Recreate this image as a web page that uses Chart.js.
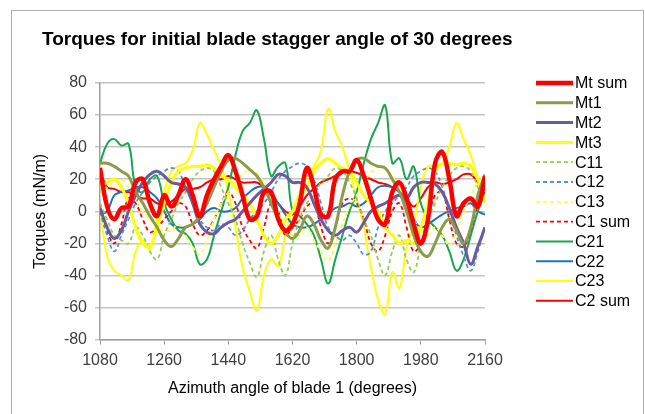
<!DOCTYPE html>
<html>
<head>
<meta charset="utf-8">
<script src="https://cdn.jsdelivr.net/npm/chart.js@4.4.1/dist/chart.umd.min.js"></script>
<style>
  body { margin: 0; background: #fff; }
  #frame { position: absolute; left: 11px; top: 10px; width: 631px; height: 420px; border: 1px solid #b0b0b0; }
  #myChart { position: absolute; left: 0; top: 0; }
</style>
</head>
<body>
<div id="frame"></div>
<canvas id="myChart" width="645" height="414"></canvas>
<script>
// x positions (azimuth angle of blade 1, degrees)
const angles = [
  1080, 1100, 1120, 1140, 1160, 1180, 1200, 1220, 1240, 1260, 1280,
  1300, 1320, 1340, 1360, 1380, 1400, 1420, 1440, 1460, 1480, 1500,
  1520, 1540, 1560, 1580, 1600, 1620, 1640, 1660, 1680, 1700, 1720,
  1740, 1760, 1780, 1800, 1820, 1840, 1860, 1880, 1900, 1920, 1940,
  1960, 1980, 2000, 2020, 2040, 2060, 2080, 2100, 2120, 2140, 2160
];

const mtSum = [
  27, 3, -5, 2, 3, 18, 20, 5, -3, 10, 3,
  10, 20, 10, -3, 10, 20, 28, 35, 25, 10, -5,
  -3, 12, 12, -5, -12, -8, 5, 27, 15, -2, -3,
  20, 25, 25, 32, 22, 8, -5, -8, 12, 18, 8,
  -8, -20, -5, 30, 37, 20, -3, 5, 8, 3, 22
];
const mt1 = [
  30, 30, 28, 25, 22, 12, 5, -3, -10, -18, -22,
  -17, -10, -8, -3, 5, 15, 25, 32, 33, 30, 26,
  22, 15, 5, -5, -13, -17, -12, -3, -8, -18, -23,
  -10, 10, 25, 32, 33, 30, 28, 27, 20, 12, 0,
  -15, -25, -28, -20, -10, -5, -12, -20, -10, 10, 23
];
const mt2 = [
  2, -10, -17, -12, 0, 10, 18, 23, 25, 22, 18,
  17, 15, 5, -8, -13, -14, -10, -7, -5, 0, 5,
  10, 14, 18, 23, 22, 18, 18, 15, 5, -5, -12,
  -15, -12, -10, -13, -7, 0, 3, 5, 8, 10, 8,
  15, 18, 18, 17, 12, 2, -10, -20, -33, -22, -10
];
const mt3 = [
  15, 18, 20, 15, 5, -10, -20, -22, -10, 5, 18,
  25, 27, 28, 28, 29, 27, 22, 20, 15, 10, 5,
  -5, -15, -20, -15, -5, 0, 8, 15, 25, 30, 33,
  30, 27, 25, 18, 10, 5, 0, -10, -15, -20, -18,
  -20, -10, 5, 25, 30, 30, 29, 30, 28, 20, 5
];
const c11 = [
  5, -5, -15, -18, -20, -10, -15, -25, -30, -15, -5,
  5, 12, 20, 25, 27, 25, 15, 5, -5, -20, -32,
  -41, -25, -15, -30, -40, -20, -5, 5, 10, 18, 22,
  27, 25, 18, 8, -5, -15, -30, -40, -25, -15, -30,
  -38, -20, -5, 5, 15, 22, 27, 28, 25, 15, 5
];
const c12 = [
  0, -15, -25, -15, -5, 5, 12, 18, 22, 25, 27,
  25, 15, 5, -5, -10, -12, -8, -10, -15, -12, -5,
  0, 5, 12, 20, 25, 28, 30, 28, 20, 5, -10,
  -15, -18, -15, -20, -27, -25, -10, 0, 5, 10, 15,
  22, 25, 27, 25, 15, 0, -15, -28, -37, -25, -10
];
const c13 = [
  10, 15, 18, 20, 15, 8, 0, -5, -10, -12, -12,
  -8, -15, -22, -27, -18, -5, 5, 12, 18, 23, 26,
  24, 18, 10, 0, -10, -15, -15, -10, -18, -25, -31,
  -20, -8, 3, 10, 18, 24, 28, 26, 22, 15, 5,
  -5, -12, -15, -10, -15, -21, -12, 0, 10, 18, 22
];
const c1Sum = [
  5, -12, -20, -8, 8, 5, -5, -13, -10, -5, 0,
  5, 3, -8, -15, -12, -5, 5, 12, 5, -10, -18,
  -23, -10, 5, 0, -15, -10, -5, 3, 5, -10, -20,
  -10, 5, 8, 5, -5, -20, -25, -15, 0, 5, -10,
  -25, -20, -5, 10, 12, -5, -20, -22, -12, 5, 12
];
const c21 = [
  30, 42, 45, 41, 42, 15, 12, 20, 22, 5, -5,
  -12, -14, -20, -33, -30, -15, 0, 15, 35, 50, 55,
  63, 45, 22, 28, 30, 0, -3, -8, -15, -30, -45,
  -30, -15, 0, 12, 30, 45, 55, 66, 30, 33, 20,
  28, 5, -5, -10, -15, -25, -37, -30, -15, 0, 12
];
const c22 = [
  -2, 0, 10, 12, 13, 15, 15, 12, 8, 0, -8,
  -10, -10, -8, -5, 0, 2, 0, 0, 2, 8, 12,
  15, 15, 10, 5, -2, -8, -10, -10, -8, -5, -2,
  2, 3, 5, 3, 5, 10, 15, 16, 15, 12, 5,
  -5, -10, -8, -5, -2, 0, 2, 3, 5, 0, -2
];
const c23 = [
  2, -28, -37, -40, -43, -25, -18, -24, -5, 12, 25,
  28, 30, 38, 55, 48, 38, 28, 12, -10, -35, -50,
  -62, -40, -30, -34, -15, 0, 12, 22, 28, 38, 64,
  50, 40, 25, 8, -10, -35, -55, -64, -38, -48, -22,
  -8, 15, 28, 28, 30, 40, 55, 45, 35, 20, 8
];
const c2Sum = [
  25, 15, 14, 12, 12, 10, 8, 8, 5, 4, 6,
  10, 14, 14, 15, 18, 20, 20, 22, 20, 18, 18,
  18, 15, 12, 5, 0, -2, 3, 10, 14, 18, 20,
  22, 24, 25, 24, 22, 20, 18, 17, 15, 12, 8,
  3, 8, 15, 18, 17, 18, 20, 23, 23, 18, 13
];

const yTicks = [-80, -60, -40, -20, 0, 20, 40, 60, 80];
const xTicks = [1080, 1260, 1440, 1620, 1800, 1980, 2160];

const FONT = "'Liberation Sans', Arial, sans-serif";

function series(label, data, color, width, dash) {
  return {
    label: label,
    data: data,
    borderColor: color,
    backgroundColor: color,
    borderWidth: width,
    borderDash: dash || [],
    pointRadius: 0,
    tension: 0.4,
    fill: false
  };
}

// title and legend drawn by hand so they sit where Excel put them
const chartDecor = {
  id: 'chartDecor',
  afterDraw(chart) {
    const ctx = chart.ctx;
    ctx.save();
    ctx.fillStyle = '#000';
    ctx.font = 'bold 19px ' + FONT;
    ctx.textBaseline = 'middle';
    ctx.fillText('Torques for initial blade stagger angle of 30 degrees', 42, 40);

    ctx.font = '16px ' + FONT;
    chart.data.datasets.forEach((ds, i) => {
      const y = 83 + i * 19.8;
      ctx.beginPath();
      ctx.setLineDash(ds.borderDash);
      ctx.strokeStyle = ds.borderColor;
      ctx.lineWidth = ds.borderWidth;
      ctx.moveTo(536, y);
      ctx.lineTo(573, y);
      ctx.stroke();
      ctx.setLineDash([]);
      ctx.fillText(ds.label, 575, y + 1);
    });
    ctx.restore();
  }
};

const ctx = document.getElementById('myChart').getContext('2d');

const chart = new Chart(ctx, {
  type: 'line',
  data: {
    labels: angles,
    datasets: [
      series('Mt sum', mtSum, '#ff0000', 4.5),
      series('Mt1', mt1, '#8c9a4c', 3),
      series('Mt2', mt2, '#6a5a9e', 3),
      series('Mt3', mt3, '#ffff00', 3),
      series('C11', c11, '#92d050', 1.8, [4, 3]),
      series('C12', c12, '#5a8fd6', 1.8, [4, 3]),
      series('C13', c13, '#ffff40', 1.8, [4, 3]),
      series('C1 sum', c1Sum, '#ff0000', 1.8, [4, 3]),
      series('C21', c21, '#1aa64f', 2),
      series('C22', c22, '#1f72c0', 2),
      series('C23', c23, '#ffff00', 2),
      series('C2 sum', c2Sum, '#ff0000', 2)
    ]
  },
  plugins: [chartDecor],
  options: {
    responsive: false,
    animation: false,
    layout: { padding: { left: 31, right: 160, top: 83, bottom: 12 } },
    plugins: {
      legend: { display: false },
      title: { display: false },
      tooltip: { enabled: false }
    },
    scales: {
      x: {
        type: 'linear',
        min: 1080,
        max: 2160,
        afterBuildTicks: (scale) => { scale.ticks = xTicks.map(v => ({ value: v })); },
        ticks: { font: { family: FONT, size: 16 }, color: '#404040', padding: 6, maxRotation: 0, callback: (v) => String(v) },
        grid: { drawOnChartArea: false, drawTicks: true, tickLength: 5, color: '#a0a0a0' },
        border: { color: '#a0a0a0', width: 1.5 },
        title: { display: true, text: 'Azimuth angle of blade 1 (degrees)', font: { family: FONT, size: 16 }, color: '#000', padding: { top: 3, bottom: 4 } }
      },
      y: {
        min: -80,
        max: 80,
        afterBuildTicks: (scale) => { scale.ticks = yTicks.map(v => ({ value: v })); },
        afterFit: (scale) => { scale.width = 69; },
        ticks: { font: { family: FONT, size: 16 }, color: '#404040', padding: 8 },
        grid: { color: '#c4c4c4', lineWidth: 1.5, tickLength: 5 },
        border: { color: '#a0a0a0', width: 1.5 },
        title: { display: true, text: 'Torques (mN/m)', font: { family: FONT, size: 16 }, color: '#000', padding: 0 }
      }
    }
  }
});
</script>
</body>
</html>
